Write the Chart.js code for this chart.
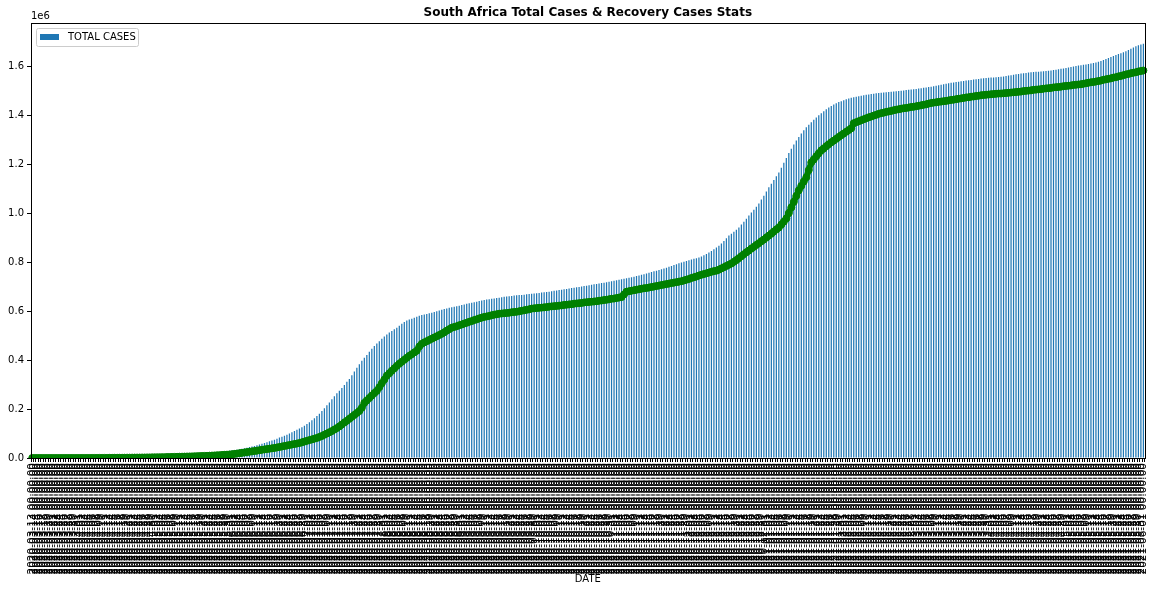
<!DOCTYPE html>
<html>
<head>
<meta charset="utf-8">
<script src="https://cdn.jsdelivr.net/npm/chart.js@4/dist/chart.umd.min.js"></script>
<style>
  html, body { margin: 0; padding: 0; background: #fff; }
  #wrap { width: 1157px; height: 592px; }
</style>
</head>
<body>
<div id="wrap"><canvas id="chart"></canvas></div>
<script>
// first day of the series, one bar per day after it
const startDate = '2020-03-13'

// total cases, thousands
const totalCasesK = [
  0.02, 0.04, 0.05, 0.06, 0.09, 0.12, 0.15, 0.2, 0.24, 0.27, 0.4, 0.55, 0.71, 0.93, 1.17, 1.19, 1.28, 1.33, 1.35, 1.38,
  1.46, 1.51, 1.59, 1.66, 1.69, 1.75, 1.85, 1.93, 2.0, 2.03, 2.17, 2.27, 2.42, 2.51, 2.61, 2.78, 3.03, 3.16, 3.3, 3.47,
  3.64, 3.95, 4.22, 4.36, 4.55, 4.79, 5.0, 5.35, 5.65, 5.95, 6.34, 6.78, 7.22, 7.57, 7.81, 8.23, 8.9, 9.42, 10.0, 10.7,
  11.4, 12.1, 12.7, 13.5, 14.4, 15.5, 16.4, 17.2, 18.0, 19.1, 20.1, 21.1, 22.1, 23.0, 23.9, 24.9, 26.0, 27.2, 28.4, 29.7,
  31, 32.5, 34, 36, 38, 40, 42, 44.5, 47, 49.5, 52, 55, 58, 61, 64.5, 68, 71.5, 75, 79, 83.5,
  87, 91, 95, 100, 105, 110, 115, 120, 126, 132, 139, 146, 154, 162, 171, 181, 192, 203, 215, 227,
  240, 252, 264, 275, 286, 298, 311, 323, 338, 353, 368, 383, 397, 409, 421, 434, 446, 457, 467, 477,
  487, 496, 504, 512, 519, 526, 532, 540, 548, 555, 561, 565, 569, 573, 577, 581, 584, 586, 588, 591,
  593, 596, 599, 602, 605, 608, 610, 613, 615, 618, 620, 622, 625, 627, 630, 632, 634, 636, 638, 641,
  643, 645, 647, 648, 650, 651, 653, 654, 656, 658, 659, 660, 661, 663, 664, 665, 666, 667, 669, 670,
  671, 672, 673, 674, 676, 677, 678, 679, 681, 683, 684, 686, 687, 689, 690, 692, 694, 695, 697, 698,
  700, 702, 703, 705, 707, 709, 710, 712, 714, 716, 718, 720, 722, 724, 726, 728, 730, 732, 734, 736,
  738, 740, 743, 745, 748, 750, 753, 756, 759, 762, 765, 768, 771, 774, 777, 781, 784, 788, 791, 795,
  798, 801, 804, 807, 810, 813, 816, 819, 823, 828, 833, 839, 845, 852, 859, 867, 876, 886, 897, 908,
  916, 924, 932, 941, 953, 965, 977, 990, 1002, 1014, 1026, 1039, 1055, 1071, 1088, 1105, 1120, 1135, 1150, 1166,
  1185, 1205, 1225, 1245, 1263, 1280, 1296, 1311, 1325, 1338, 1350, 1361, 1371, 1381, 1390, 1399, 1408, 1416, 1424, 1431,
  1437, 1443, 1448, 1453, 1457, 1461, 1465, 1468, 1471, 1473, 1475, 1477, 1479, 1481, 1483, 1484, 1486, 1487, 1489, 1490,
  1491, 1492, 1493, 1494, 1495, 1496, 1497, 1498, 1499, 1500, 1502, 1503, 1504, 1506, 1507, 1509, 1510, 1512, 1513, 1515,
  1516, 1518, 1520, 1522, 1524, 1526, 1528, 1530, 1532, 1533, 1535, 1536, 1538, 1539, 1541, 1542, 1543, 1545, 1546, 1547,
  1549, 1550, 1551, 1552, 1553, 1554, 1555, 1556, 1557, 1558, 1560, 1562, 1563, 1565, 1567, 1568, 1570, 1571, 1572, 1574,
  1575, 1576, 1577, 1577, 1578, 1579, 1580, 1581, 1582, 1584, 1585, 1587, 1589, 1590, 1592, 1594, 1596, 1598, 1600, 1602,
  1604, 1606, 1607, 1609, 1611, 1613, 1615, 1618, 1621, 1625, 1629, 1633, 1637, 1641, 1645, 1649, 1653, 1657, 1661, 1666,
  1671, 1676, 1681, 1685, 1688, 1691,
]

// recovered cases, thousands
const recoveredK = [
  0, 0, 0, 0, 0, 0, 0, 0, 0, 0, 0, 0, 0, 0.03, 0.03, 0.03, 0.03, 0.03, 0.05, 0.05,
  0.1, 0.1, 0.1, 0.1, 0.2, 0.3, 0.3, 0.4, 0.4, 0.5, 0.5, 0.6, 0.7, 0.8, 0.9, 0.9, 1.0, 1.1, 1.3, 1.4,
  1.5, 1.6, 1.7, 1.8, 2.0, 2.1, 2.3, 2.4, 2.6, 2.7, 2.9, 3.1, 3.3, 3.5, 3.8, 4.0, 4.3, 4.5, 4.8, 5.1,
  5.4, 5.7, 6.0, 6.3, 6.6, 6.9, 7.3, 7.7, 8.1, 8.5, 8.9, 9.4, 9.9, 10.4, 11.0, 11.6, 12.2, 12.9, 13.6, 14.4,
  15.5, 16.7, 18.0, 19.5, 21.0, 22.5, 24.0, 25.5, 27.0, 28.5, 30.0, 31.8, 33.5, 35.0, 36.5, 38.0, 39.5, 41.0, 43.0, 45.0,
  47, 49, 51, 53, 55, 57, 59, 61, 64, 67, 70, 73, 76, 79, 82, 86, 90, 95, 100, 105,
  110, 116, 122, 129, 137, 145, 152, 160, 168, 176, 184, 192, 205, 225, 235, 245, 255, 265, 274, 289,
  305, 320, 336, 346, 356, 366, 376, 385, 393, 401, 409, 417, 424, 431, 438, 455, 466, 472, 477, 482,
  487, 492, 497, 502, 507, 513, 520, 526, 532, 535, 538, 542, 545, 549, 552, 556, 559, 563, 566, 570,
  573, 576, 578, 580, 583, 585, 587, 589, 590, 591, 592, 593, 595, 596, 597, 599, 601, 603, 605, 607,
  610, 611, 612, 613, 614, 615, 616, 618, 619, 620, 621, 622, 623, 625, 626, 627, 628, 630, 631, 632,
  633, 635, 636, 637, 638, 639, 640, 642, 643, 645, 646, 648, 650, 651, 653, 655, 657, 668, 679, 681,
  683, 685, 687, 689, 691, 693, 694, 696, 698, 700, 702, 704, 706, 708, 710, 712, 714, 716, 718, 720,
  722, 725, 728, 731, 735, 738, 741, 745, 748, 751, 754, 757, 760, 763, 765, 769, 774, 779, 784, 789,
  794, 801, 808, 816, 824, 832, 840, 847, 855, 862, 870, 877, 885, 892, 900, 908, 916, 925, 933, 941,
  953, 965, 978, 1000, 1023, 1046, 1070, 1093, 1111, 1129, 1146, 1176, 1207, 1219, 1232, 1244, 1256, 1264, 1273, 1281,
  1289, 1296, 1303, 1311, 1318, 1325, 1332, 1339, 1346, 1367, 1371, 1375, 1379, 1383, 1387, 1391, 1394, 1398, 1401, 1405,
  1408, 1410, 1413, 1415, 1417, 1420, 1422, 1424, 1426, 1428, 1429, 1431, 1433, 1434, 1436, 1438, 1440, 1442, 1444, 1447,
  1449, 1451, 1452, 1454, 1455, 1457, 1458, 1460, 1462, 1463, 1465, 1467, 1468, 1470, 1472, 1473, 1475, 1476, 1478, 1479,
  1481, 1482, 1483, 1484, 1485, 1486, 1487, 1488, 1488, 1489, 1490, 1491, 1492, 1493, 1494, 1495, 1496, 1498, 1499, 1500,
  1501, 1503, 1504, 1505, 1506, 1508, 1509, 1510, 1511, 1513, 1514, 1515, 1516, 1518, 1519, 1520, 1521, 1523, 1524, 1525,
  1526, 1528, 1530, 1532, 1534, 1535, 1537, 1539, 1541, 1544, 1546, 1548, 1550, 1553, 1555, 1558, 1560, 1563, 1566, 1568,
  1571, 1573, 1575, 1578, 1580, 1582,
]

const yTickValues = [0, 200000, 400000, 600000, 800000, 1000000, 1200000, 1400000, 1600000]
const yMax = 1776000

const dates = totalCasesK.map((_, i) => {
  const d = new Date(startDate + 'T00:00:00Z')
  d.setUTCDate(d.getUTCDate() + i)
  return d.toISOString().slice(0, 10) + ' 00:00:00'
})

const FONT = 'DejaVu Sans'

// title, inside legend, offset text and the top/right spines
const decor = {
  id: 'decor',
  afterDraw(chart) {
    const { ctx, chartArea: a } = chart
    ctx.save()
    ctx.strokeStyle = '#000'
    ctx.lineWidth = 1
    ctx.strokeRect(Math.round(a.left) + 0.5, Math.round(a.top) + 0.5,
      Math.round(a.right - a.left), Math.round(a.bottom - a.top))

    ctx.fillStyle = '#000'
    ctx.font = 'bold 12px ' + FONT
    ctx.textAlign = 'center'
    ctx.textBaseline = 'middle'
    ctx.fillText('South Africa Total Cases & Recovery Cases Stats', (a.left + a.right) / 2, 13)

    ctx.font = '10px ' + FONT
    ctx.textAlign = 'left'
    ctx.fillText('1e6', a.left, 16)

    // legend box
    const lx = a.left + 5, ly = a.top + 5
    ctx.fillStyle = 'rgba(255,255,255,0.8)'
    ctx.strokeStyle = '#cccccc'
    ctx.beginPath()
    ctx.roundRect(lx + 0.5, ly + 0.5, 102, 18, 2)
    ctx.fill()
    ctx.stroke()
    ctx.fillStyle = '#1f77b4'
    ctx.fillRect(lx + 4, ly + 6, 19, 6)
    ctx.fillStyle = '#000'
    ctx.fillText('TOTAL CASES', lx + 32, ly + 9.5)
    ctx.restore()
  },
}

new Chart(document.getElementById('chart'), {
  data: {
    labels: dates,
    datasets: [
      {
        type: 'line',
        label: 'RECOVERED',
        data: recoveredK.map(v => v * 1000),
        borderColor: '#008000',
        backgroundColor: '#008000',
        borderWidth: 6,
        pointRadius: 3.5,
        pointBorderWidth: 1,
        pointBackgroundColor: '#008000',
        tension: 0,
        order: 0,
      },
      {
        type: 'bar',
        label: 'TOTAL CASES',
        data: totalCasesK.map(v => v * 1000),
        backgroundColor: '#1f77b4',
        barPercentage: 0.5,
        categoryPercentage: 1,
        order: 1,
      },
    ],
  },
  options: {
    responsive: true,
    maintainAspectRatio: false,
    animation: false,
    layout: { padding: { top: 23, right: 10, left: 0, bottom: 0 } },
    plugins: {
      legend: { display: false },
      title: { display: false },
      tooltip: { enabled: false },
    },
    scales: {
      x: {
        offset: true,
        grid: { display: true, drawOnChartArea: false, drawTicks: true, tickLength: 4, color: '#000' },
        border: { display: true, color: '#000' },
        ticks: {
          autoSkip: false,
          minRotation: 90,
          maxRotation: 90,
          padding: 1,
          color: '#000',
          font: { family: FONT, size: 10.5 },
        },
        title: {
          display: true,
          text: 'DATE',
          color: '#000',
          font: { family: FONT, size: 10 },
          padding: { top: 0, bottom: 7 },
        },
        afterFit(scale) { scale.height = 134 },
      },
      y: {
        min: 0,
        max: yMax,
        grid: { display: true, drawOnChartArea: false, drawTicks: true, tickLength: 4, color: '#000' },
        border: { display: true, color: '#000' },
        afterBuildTicks(scale) { scale.ticks = yTickValues.map(v => ({ value: v })) },
        ticks: {
          color: '#000',
          padding: 3,
          font: { family: FONT, size: 10 },
          callback: v => (v / 1e6).toFixed(1),
        },
        afterFit(scale) { scale.width = 31 },
      },
    },
  },
  plugins: [decor],
})
</script>
</body>
</html>
